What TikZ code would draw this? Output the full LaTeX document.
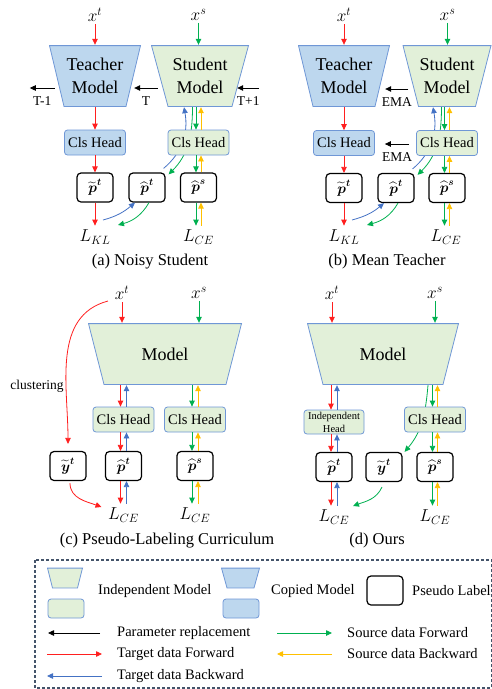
\documentclass[tikz,border=0pt]{standalone}
\usepackage{amsmath}
\usepackage{fontspec}
\setmainfont{Liberation Serif}
\usetikzlibrary{arrows.meta}

\definecolor{copyfill}{HTML}{BDD7EE}
\definecolor{indfill}{HTML}{E2F0D9}
\definecolor{boxedge}{HTML}{6F97D6}
\definecolor{fwdred}{HTML}{FF1F1F}
\definecolor{bwdblue}{HTML}{4472C4}
\definecolor{srcgreen}{HTML}{00B050}
\definecolor{srcyellow}{HTML}{FFC000}
\definecolor{legedge}{HTML}{44546A}

\begin{document}
\begin{tikzpicture}[x=1pt, y=1pt,
    >={Triangle[length=6pt, width=5.5pt]}, % filled arrow heads
    trap/.style args={#1/#2/#3}{minimum width=#1, minimum height=62pt, inner sep=0pt, align=center,
      path picture={\filldraw[fill=#2, draw=boxedge, line width=0.8pt]
        ([shift={(0.5pt,-0.6pt)}]path picture bounding box.north west) --
        ([shift={(-0.5pt,-0.6pt)}]path picture bounding box.north east) --
        ([shift={(-#3,0.6pt)}]path picture bounding box.south east) --
        ([shift={(#3,0.6pt)}]path picture bounding box.south west) -- cycle;}},
    mtext/.style={font=\fontsize{18}{23}\selectfont},
    bigtext/.style={font=\fontsize{18}{20}\selectfont},
    headbox/.style={draw=boxedge, line width=0.8pt, rounded corners=3pt, minimum width=61pt,
      minimum height=25pt, inner sep=0pt, font=\fontsize{14.5}{16}\selectfont},
    copyhead/.style={headbox, fill=copyfill},
    indhead/.style={headbox, fill=indfill},
    plabel/.style={draw, fill=white, line width=1.2pt, rounded corners=4pt, minimum width=36pt,
      minimum height=29pt, inner sep=0pt, font=\fontsize{14}{16}\selectfont},
    input/.style={inner sep=2pt, font=\fontsize{18}{20}\selectfont},
    loss/.style={inner sep=4pt, font=\fontsize{17}{19}\selectfont},
    capt/.style={font=\fontsize{16.5}{18}\selectfont},
    tag/.style={font=\fontsize{13.5}{15}\selectfont, inner sep=2pt, below=6pt},
    legtext/.style={anchor=west, inner sep=0pt, font=\fontsize{14.5}{16}\selectfont},
    tfwd/.style={->, fwdred, line width=0.8pt},
    tbwd/.style={->, bwdblue, line width=0.8pt},
    sfwd/.style={->, srcgreen, line width=0.8pt},
    sbwd/.style={->, srcyellow, line width=0.8pt},
    param/.style={->, black, line width=0.8pt}
]
\useasboundingbox (0,0) rectangle (492,-689);

% ---------------- (a) noisy student
\node[input] (xta) at (95,-15) {$x^t$};
\node[input] (xsa) at (198.5,-15) {$x^s$};
\node[trap=92pt/copyfill/15pt, mtext] (tma) at (95,-76) {Teacher\\Model};
\node[trap=98pt/indfill/17pt, mtext] (sma) at (200,-76) {Student\\Model};
\node[plabel] (pta) at (95,-187.5) {$\widetilde{\boldsymbol{p}}^{\boldsymbol{t}}$};
\node[plabel] (qta) at (147,-187.5) {$\widehat{\boldsymbol{p}}^{\boldsymbol{t}}$};
\node[plabel] (psa) at (198.5,-187.5) {$\widehat{\boldsymbol{p}}^{\boldsymbol{s}}$};
\node[loss] (lkla) at (95,-237) {$L_{KL}$};
\node[loss] (lcea) at (198.5,-237) {$L_{CE}$};

% curves that run behind the student head
\draw[tbwd] ([xshift=-2pt,yshift=4pt]qta.north east) to[out=40,in=-80] ([xshift=-16pt]sma.south);
\draw[sfwd] ([xshift=-7.5pt]sma.south) to[out=-90,in=45] ([xshift=3pt,yshift=-2pt]qta.north east);

\node[copyhead] (hta) at (95,-142.5) {Cls Head};
\node[indhead] (hsa) at (198.5,-142.5) {Cls Head};

\draw[tfwd] (xta) -- (tma);
\draw[tfwd] (tma) -- (hta);
\draw[tfwd] (hta) -- (pta);
\draw[tfwd] (pta) -- (lkla);
\draw[sfwd] (xsa) -- (xsa |- sma.north);
\draw[sfwd] ([xshift=-2.5pt]hsa.north |- sma.south) -- ([xshift=-2.5pt]hsa.north);
\draw[sbwd] ([xshift=2.5pt]hsa.north) -- ([xshift=2.5pt]hsa.north |- sma.south);
\draw[sfwd] ([xshift=-2.5pt]hsa.south) -- ([xshift=-2.5pt]psa.north);
\draw[sbwd] ([xshift=2.5pt]psa.north) -- ([xshift=2.5pt]hsa.south);
\draw[sfwd] ([xshift=-2.5pt]psa.south) -- ([xshift=-2.5pt]psa.south |- lcea.north);
\draw[sbwd] ([xshift=2.5pt]psa.south |- lcea.north) -- ([xshift=2.5pt]psa.south);
\draw[tbwd] ([xshift=8pt,yshift=17pt]lkla.center) to[out=15,in=-140] ([xshift=-12pt]qta.south);
\draw[sfwd] ([xshift=2pt]qta.south) to[out=-120,in=15] ([xshift=23pt,yshift=12pt]lkla.center);

% parameter replacement between rounds
\draw[param] ([xshift=6pt,yshift=-12pt]tma.west) -- ++(-25,0) node[tag, midway] (tprev) {T-1};
\draw[param] ([xshift=7pt,yshift=-12pt]sma.west) -- ([xshift=-7pt,yshift=-12pt]tma.east) node[tag, midway] (tnow) {T};
\draw[param] ([xshift=10pt,yshift=-12pt]sma.east) -- ([xshift=-12pt,yshift=-12pt]sma.east) node[tag, midway] (tnext) {T+1};

\node[capt] (capa) at (150,-262) {(a) Noisy Student};

% ---------------- (b) mean teacher
\node[input] (xtb) at (344,-15) {$x^t$};
\node[input] (xsb) at (447.5,-15) {$x^s$};
\node[trap=92pt/copyfill/15pt, mtext] (tmb) at (344,-76) {Teacher\\Model};
\node[trap=89pt/indfill/16pt, mtext] (smb) at (447,-76) {Student\\Model};
\node[plabel] (ptb) at (344,-188) {$\widetilde{\boldsymbol{p}}^{\boldsymbol{t}}$};
\node[plabel] (qtb) at (396,-188) {$\widehat{\boldsymbol{p}}^{\boldsymbol{t}}$};
\node[plabel] (psb) at (447,-188) {$\widehat{\boldsymbol{p}}^{\boldsymbol{s}}$};
\node[loss] (lklb) at (344,-237) {$L_{KL}$};
\node[loss] (lceb) at (446,-237) {$L_{CE}$};

\draw[tbwd] ([xshift=-2pt,yshift=4pt]qtb.north east) to[out=40,in=-80] ([xshift=-14pt]smb.south);
\draw[sfwd] ([xshift=-5.5pt]smb.south) to[out=-90,in=45] ([xshift=3pt,yshift=-2pt]qtb.north east);

\node[copyhead] (htb) at (344,-143) {Cls Head};
\node[indhead] (hsb) at (447,-143) {Cls Head};

\draw[tfwd] (xtb) -- (tmb);
\draw[tfwd] (tmb) -- (htb);
\draw[tfwd] (htb) -- (ptb);
\draw[tfwd] (ptb) -- (lklb);
\draw[sfwd] (xsb) -- (xsb |- smb.north);
\draw[sfwd] ([xshift=-2.5pt]hsb.north |- smb.south) -- ([xshift=-2.5pt]hsb.north);
\draw[sbwd] ([xshift=2.5pt]hsb.north) -- ([xshift=2.5pt]hsb.north |- smb.south);
\draw[sfwd] ([xshift=-2.5pt]hsb.south) -- ([xshift=-2.5pt]psb.north);
\draw[sbwd] ([xshift=2.5pt]psb.north) -- ([xshift=2.5pt]hsb.south);
\draw[sfwd] ([xshift=-2.5pt]psb.south) -- ([xshift=-2.5pt]psb.south |- lceb.north);
\draw[sbwd] ([xshift=2.5pt]psb.south |- lceb.north) -- ([xshift=2.5pt]psb.south);
\draw[tbwd] ([xshift=8pt,yshift=17pt]lklb.center) to[out=15,in=-140] ([xshift=-12pt]qtb.south);
\draw[sfwd] ([xshift=2pt]qtb.south) to[out=-120,in=15] ([xshift=23pt,yshift=12pt]lklb.center);

% exponential moving average
\draw[param] ([xshift=6pt,yshift=-13pt]smb.west) -- ([xshift=-5pt,yshift=-13pt]tmb.east) node[tag, midway] (emam) {EMA};
\draw[param] ([xshift=-7pt,yshift=-1pt]hsb.west) -- ([xshift=10pt,yshift=-1pt]htb.east) node[tag, midway] (emah) {EMA};

\node[capt] (capb) at (387,-262) {(b) Mean Teacher};

% ---------------- (c) pseudo-labeling curriculum
\node[input] (xtc) at (122,-293) {$x^t$};
\node[input] (xsc) at (199,-293) {$x^s$};
\node[trap=154pt/indfill/16pt, bigtext] (mc) at (165,-354) {Model};
\node[indhead] (hc1) at (123.5,-419.5) {Cls Head};
\node[indhead] (hc2) at (195,-419.5) {Cls Head};
\node[plabel] (yc) at (68,-466) {$\widetilde{\boldsymbol{y}}^{\boldsymbol{t}}$};
\node[plabel] (ptc) at (123.5,-466) {$\widehat{\boldsymbol{p}}^{\boldsymbol{t}}$};
\node[plabel] (psc) at (195,-466) {$\widehat{\boldsymbol{p}}^{\boldsymbol{s}}$};
\node[loss] (lc1) at (123.5,-515) {$L_{CE}$};
\node[loss] (lc2) at (195,-515) {$L_{CE}$};

\draw[tfwd] (xtc) -- (xtc |- mc.north);
\draw[sfwd] (xsc) -- (xsc |- mc.north);
\draw[tfwd] ([xshift=-14pt,yshift=-8pt]xtc.center) to[out=195,in=90] ([yshift=7pt]yc.north);
\node[font=\fontsize{13.5}{15}\selectfont] (clus) at (37,-386) {clustering};
\draw[tfwd] ([xshift=2pt,yshift=-2pt]yc.south) to[out=-90,in=160] ([xshift=-22pt,yshift=8pt]lc1.center);

\draw[tfwd] ([xshift=-3pt]hc1.north |- mc.south) -- ([xshift=-3pt]hc1.north);
\draw[tbwd] ([xshift=3pt]hc1.north) -- ([xshift=3pt]hc1.north |- mc.south);
\draw[tfwd] ([xshift=-3pt]hc1.south) -- ([xshift=-3pt]ptc.north);
\draw[tbwd] ([xshift=3pt]ptc.north) -- ([xshift=3pt]hc1.south);
\draw[tfwd] ([xshift=-3pt]ptc.south) -- ([xshift=-3pt]ptc.south |- lc1.north);
\draw[tbwd] ([xshift=3pt]ptc.south |- lc1.north) -- ([xshift=3pt]ptc.south);

\draw[sfwd] ([xshift=-3pt]hc2.north |- mc.south) -- ([xshift=-3pt]hc2.north);
\draw[sbwd] ([xshift=3pt]hc2.north) -- ([xshift=3pt]hc2.north |- mc.south);
\draw[sfwd] ([xshift=-3pt]hc2.south) -- ([xshift=-3pt]psc.north);
\draw[sbwd] ([xshift=3pt]psc.north) -- ([xshift=3pt]hc2.south);
\draw[sfwd] ([xshift=-3pt]psc.south) -- ([xshift=-3pt]psc.south |- lc2.north);
\draw[sbwd] ([xshift=3pt]psc.south |- lc2.north) -- ([xshift=3pt]psc.south);

\node[capt] (capc) at (167,-541) {(c) Pseudo-Labeling Curriculum};

% ---------------- (d) ours
\node[input] (xtd) at (332,-293) {$x^t$};
\node[input] (xsd) at (435,-293) {$x^s$};
\node[trap=152pt/indfill/16pt, bigtext] (md) at (383,-354) {Model};
\node[plabel] (ptd) at (334,-467) {$\widehat{\boldsymbol{p}}^{\boldsymbol{t}}$};
\node[plabel] (yd) at (384,-467) {$\widetilde{\boldsymbol{y}}^{\boldsymbol{t}}$};
\node[plabel] (psd) at (435,-467) {$\widehat{\boldsymbol{p}}^{\boldsymbol{s}}$};
\node[loss] (ld1) at (334,-517) {$L_{CE}$};
\node[loss] (ld2) at (435,-517) {$L_{CE}$};

\draw[sfwd] ([xshift=-7pt]psd.north |- md.south) to[out=-95,in=50] ([xshift=2pt]yd.north east);

\node[indhead, minimum width=60pt, minimum height=24pt, align=center,
  font=\fontsize{10.5}{13}\selectfont] (ihd) at (334,-422) {Independent\\Head};
\node[indhead] (hd2) at (435,-419.5) {Cls Head};

\draw[tfwd] (xtd) -- (xtd |- md.north);
\draw[sfwd] (xsd) -- (xsd |- md.north);
\draw[sfwd] ([xshift=-2pt,yshift=-5pt]yd.south) to[out=-115,in=20] ([xshift=19pt,yshift=11pt]ld1.center);

\draw[tfwd] ([xshift=-3pt]ihd.north |- md.south) -- ([xshift=-3pt]ihd.north);
\draw[tbwd] ([xshift=3pt]ihd.north) -- ([xshift=3pt]ihd.north |- md.south);
\draw[tfwd] ([xshift=-3pt]ihd.south) -- ([xshift=-3pt]ptd.north);
\draw[tbwd] ([xshift=3pt]ptd.north) -- ([xshift=3pt]ihd.south);
\draw[tfwd] ([xshift=-3pt]ptd.south) -- ([xshift=-3pt]ptd.south |- ld1.north);
\draw[tbwd] ([xshift=3pt]ptd.south |- ld1.north) -- ([xshift=3pt]ptd.south);

\draw[sfwd] ([xshift=-2.5pt]hd2.north |- md.south) -- ([xshift=-2.5pt]hd2.north);
\draw[sbwd] ([xshift=2.5pt]hd2.north) -- ([xshift=2.5pt]hd2.north |- md.south);
\draw[sfwd] ([xshift=-2.5pt]hd2.south) -- ([xshift=-2.5pt]psd.north);
\draw[sbwd] ([xshift=2.5pt]psd.north) -- ([xshift=2.5pt]hd2.south);
\draw[sfwd] ([xshift=-2.5pt]psd.south) -- ([xshift=-2.5pt]psd.south |- ld2.north);
\draw[sbwd] ([xshift=2.5pt]psd.south |- ld2.north) -- ([xshift=2.5pt]psd.south);

\node[capt] (capd) at (377,-541) {(d) Ours};

% ---------------- legend
\draw[legedge, line width=1.1pt, dash pattern=on 3pt off 2pt] (35,-560) rectangle (491.4,-688);

\node[trap=36pt/indfill/5.5pt, minimum height=21pt] (lgim) at (65,-578) {};
\node[indhead, minimum width=36pt, minimum height=19pt] (lgih) at (66,-608.5) {};
\node[legtext] (lgimt) at (98,-591) {Independent Model};
\node[trap=39pt/copyfill/6pt, minimum height=21pt] (lgcm) at (240.5,-578) {};
\node[copyhead, minimum width=36pt, minimum height=19pt] (lgch) at (241,-608.5) {};
\node[legtext] (lgcmt) at (271,-591) {Copied Model};
\node[plabel] (lgpl) at (385,-590.5) {};
\node[legtext] (lgplt) at (412,-591) {Pseudo Label};

\node[legtext] (lgpar) at (117,-633) {Parameter replacement};
\node[legtext] (lgtf) at (117,-654) {Target data Forward};
\node[legtext] (lgtb) at (117,-676) {Target data Backward};
\node[legtext] (lgsf) at (347,-633) {Source data Forward};
\node[legtext] (lgsb) at (347,-654) {Source data Backward};

\draw[param] ([xshift=-17pt]lgpar.west) -- ([xshift=-69pt]lgpar.west);
\draw[tfwd] ([xshift=-70pt]lgtf.west) -- ([xshift=-15pt]lgtf.west);
\draw[tbwd] ([xshift=-15pt]lgtb.west) -- ([xshift=-70pt]lgtb.west);
\draw[sfwd] ([xshift=-70pt]lgsf.west) -- ([xshift=-15pt]lgsf.west);
\draw[sbwd] ([xshift=-15pt]lgsb.west) -- ([xshift=-70pt]lgsb.west);
\end{tikzpicture}
\end{document}
